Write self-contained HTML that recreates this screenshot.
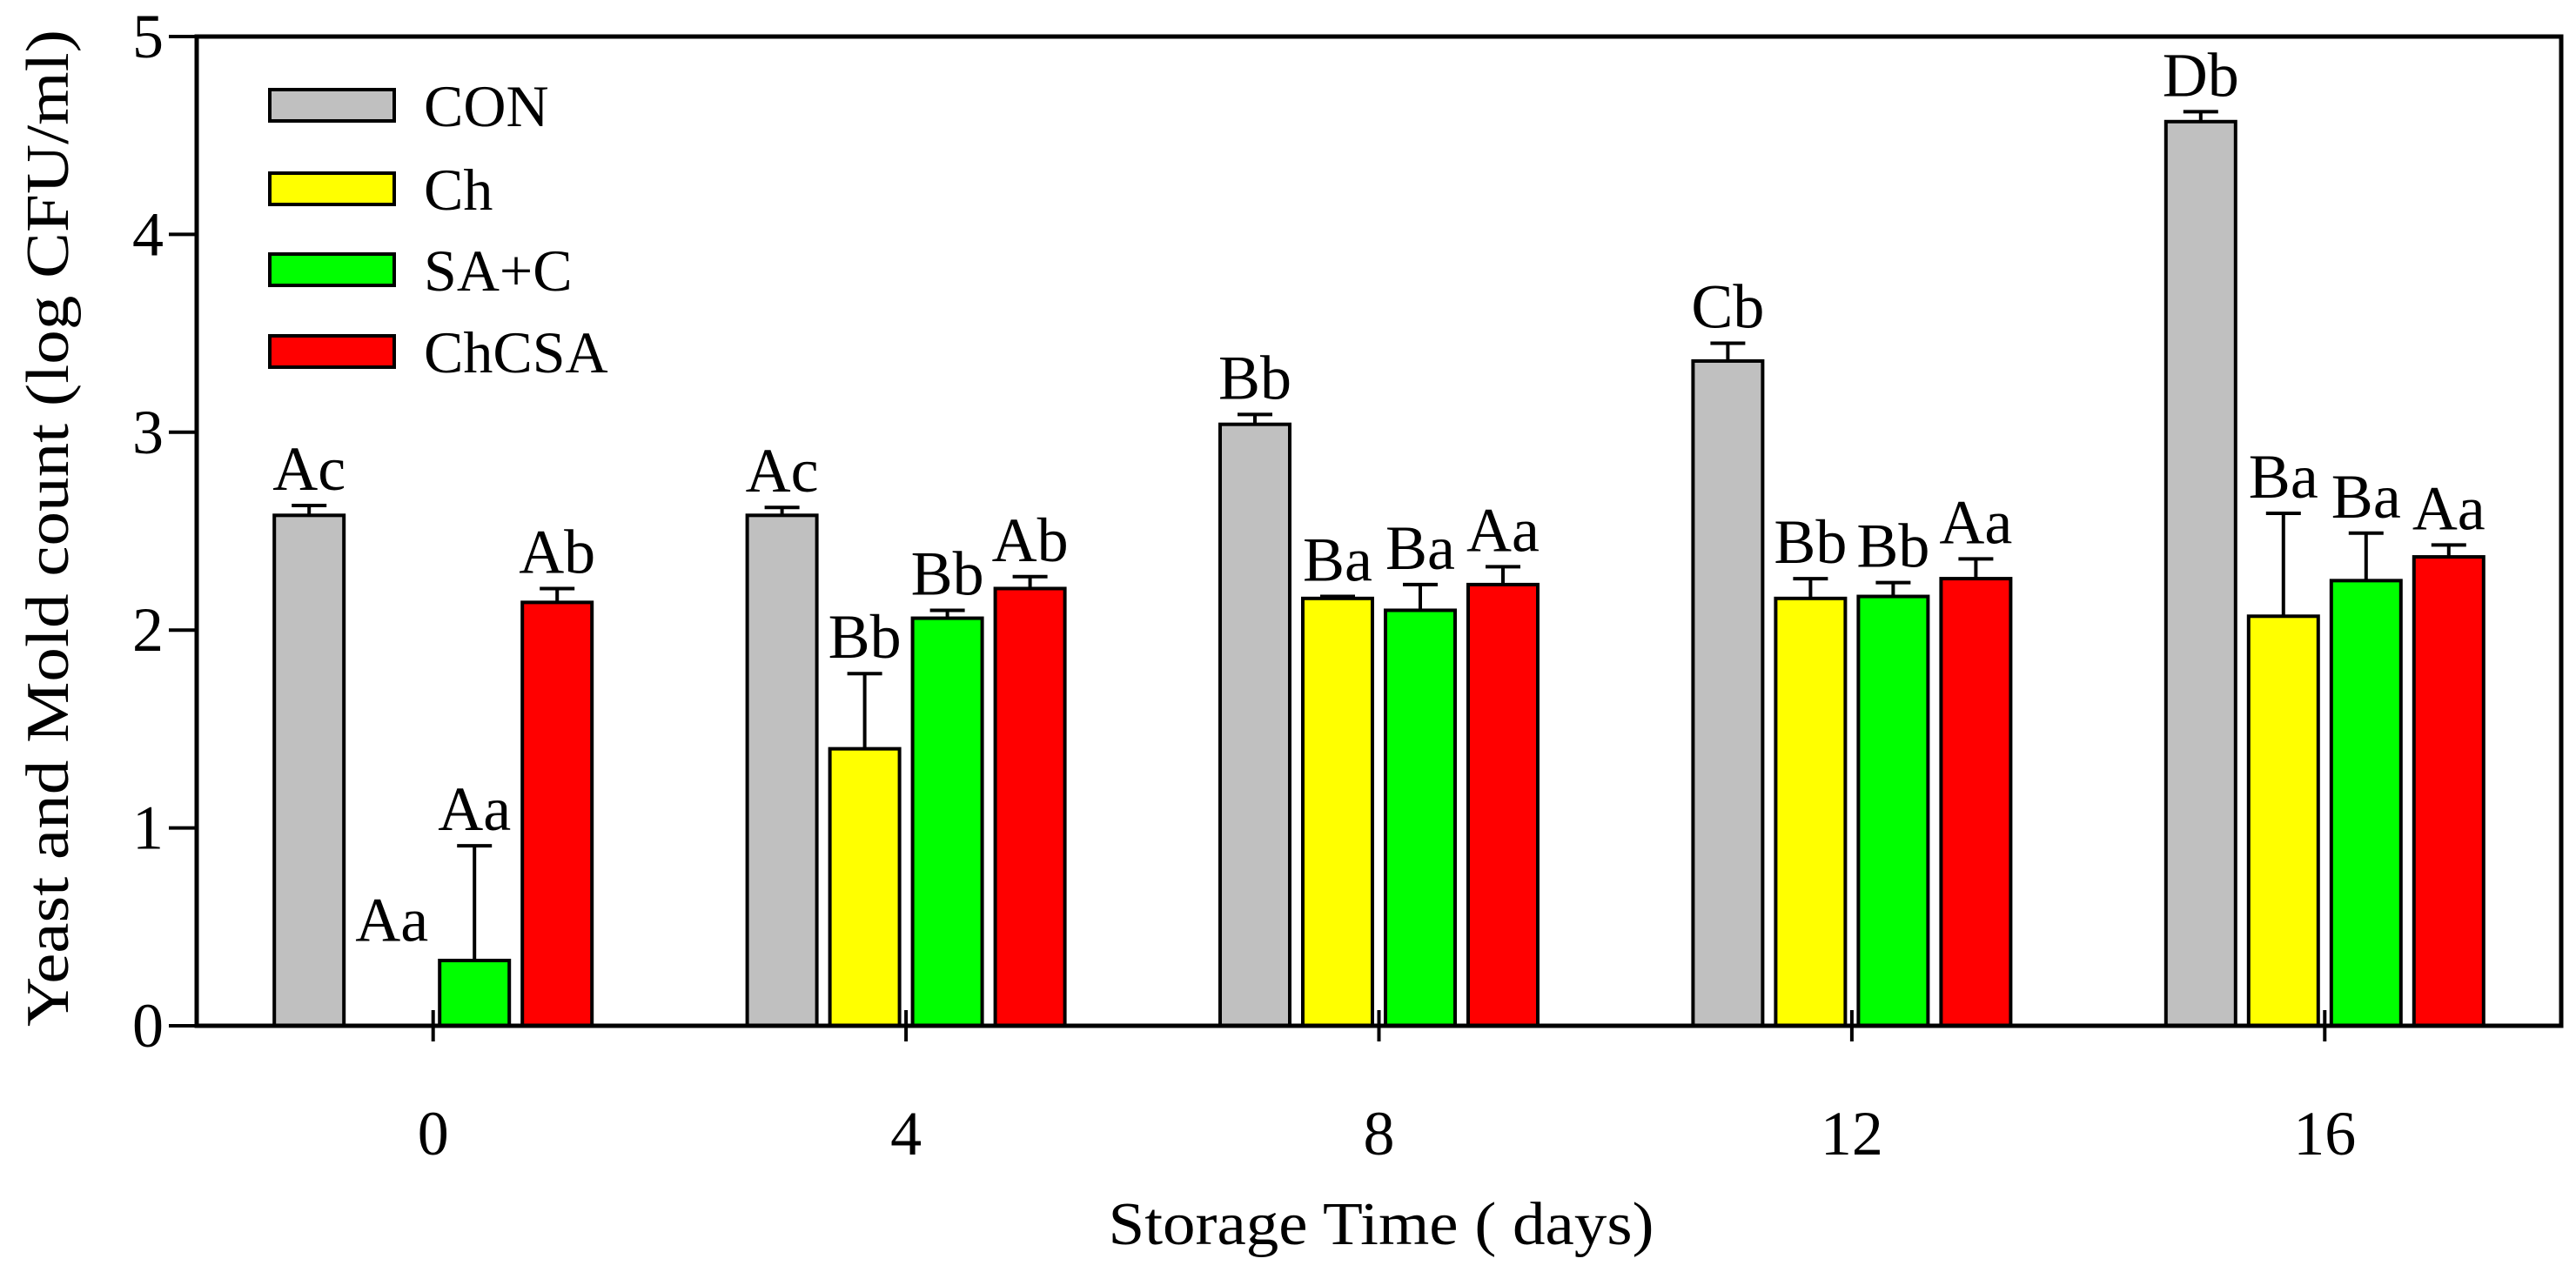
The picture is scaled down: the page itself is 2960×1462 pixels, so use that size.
<!DOCTYPE html>
<html><head><meta charset="utf-8"><style>
html,body{margin:0;padding:0;background:#fff;}
svg{display:block;font-family:"Liberation Serif",serif;}
</style></head><body>
<svg id="chart" width="2960" height="1462" viewBox="0 0 2960 1462" xmlns="http://www.w3.org/2000/svg">
<g id="bars"></g>
<g id="axes"></g>
<g id="legend"></g>
<text transform="translate(78,607) rotate(-90)" text-anchor="middle" font-size="70" textLength="1146" lengthAdjust="spacingAndGlyphs">Yeast and Mold count (log CFU/ml)</text>
<text x="1587" y="1430" text-anchor="middle" font-size="70" textLength="627" lengthAdjust="spacingAndGlyphs">Storage Time ( days)</text>
</svg>
<script>
const categories = ["0","4","8","12","16"];
const seriesNames = ["CON","Ch","SA+C","ChCSA"];
const seriesColors = ["#c0c0c0","#ffff00","#00ff00","#ff0000"];
const conVals = [2.58,2.58,3.04,3.36,4.57];
const conErr = [0.05,0.04,0.05,0.09,0.05];
const conLbl = ["Ac","Ac","Bb","Cb","Db"];
const chVals = [0,1.40,2.16,2.16,2.07];
const chErr = [0,0.38,0.01,0.10,0.52];
const chLbl = ["Aa","Bb","Ba","Bb","Ba"];
const sacVals = [0.33,2.06,2.10,2.17,2.25];
const sacErr = [0.58,0.04,0.13,0.07,0.24];
const sacLbl = ["Aa","Bb","Ba","Bb","Ba"];
const chcsaVals = [2.14,2.21,2.23,2.26,2.37];
const chcsaErr = [0.07,0.06,0.09,0.10,0.06];
const chcsaLbl = ["Ab","Ab","Aa","Aa","Aa"];
const yTicks = [0,1,2,3,4,5];

const NS="http://www.w3.org/2000/svg";
const L=226,R=2943,T=42,B=1179;
const yMax=5;
const band=(R-L)/categories.length;
function y(v){return B-(v/yMax)*(B-T);}
function xc(i){return L+band*(i+0.5);}
const off=[-142.5,-47.5,47.5,142.5];
const bw=80;
function mk(tag,attrs,parent){const e=document.createElementNS(NS,tag);for(const k in attrs)e.setAttribute(k,attrs[k]);parent.appendChild(e);return e;}
const gb=document.getElementById('bars');
const allVals=[conVals,chVals,sacVals,chcsaVals];
const allErr=[conErr,chErr,sacErr,chcsaErr];
const allLbl=[conLbl,chLbl,sacLbl,chcsaLbl];
for(let s=0;s<4;s++){
  for(let i=0;i<categories.length;i++){
    const cx=xc(i)+off[s];
    const v=allVals[s][i],e=allErr[s][i];
    if(v>0){
      if(e>0){
        const ln=mk('line',{x1:cx,x2:cx,y1:y(v),y2:y(v+e),stroke:'#000','stroke-width':4},gb);
        
        
        const cap=mk('line',{x1:cx-20,x2:cx+20,y1:y(v+e),y2:y(v+e),stroke:'#000','stroke-width':4},gb);
        
        
      }
      const r=mk('rect',{x:cx-bw/2,y:y(v),width:bw,height:B-y(v),fill:seriesColors[s],stroke:'#000','stroke-width':4},gb);
      
      
    }
    const top=v>0?y(v+e):y(0.35);
    const t=mk('text',{x:cx,y:top-18,'text-anchor':'middle','font-size':72},gb);
    t.textContent=allLbl[s][i];
    
    
  }
}
const ga=document.getElementById('axes');
const frame=mk('rect',{x:L,y:T,width:R-L,height:B-T,fill:'none',stroke:'#000','stroke-width':5},ga);


for(const tv of yTicks){
  const tk=mk('line',{x1:L-32,x2:L,y1:y(tv),y2:y(tv),stroke:'#000','stroke-width':4},ga);
  
  
  const tl=mk('text',{x:L-38,y:y(tv)+24,'text-anchor':'end','font-size':72},ga);
  tl.textContent=tv;
  
  
}
for(let i=0;i<categories.length;i++){
  const tk=mk('line',{x1:xc(i),x2:xc(i),y1:B-18,y2:B+18,stroke:'#000','stroke-width':4},ga);
  
  
  const tl=mk('text',{x:xc(i),y:B+148,'text-anchor':'middle','font-size':72},ga);
  tl.textContent=categories[i];
  
  
}
const gl=document.getElementById('legend');
const legY=[121,217,310,404];
for(let s=0;s<4;s++){
  const sw=mk('rect',{x:310,y:legY[s]-18,width:143,height:36,fill:seriesColors[s],stroke:'#000','stroke-width':4},gl);
  
  
  const lt=mk('text',{x:487,y:legY[s]+24,'font-size':68},gl);
  lt.textContent=seriesNames[s];
  
  
}
</script>
</body></html>
